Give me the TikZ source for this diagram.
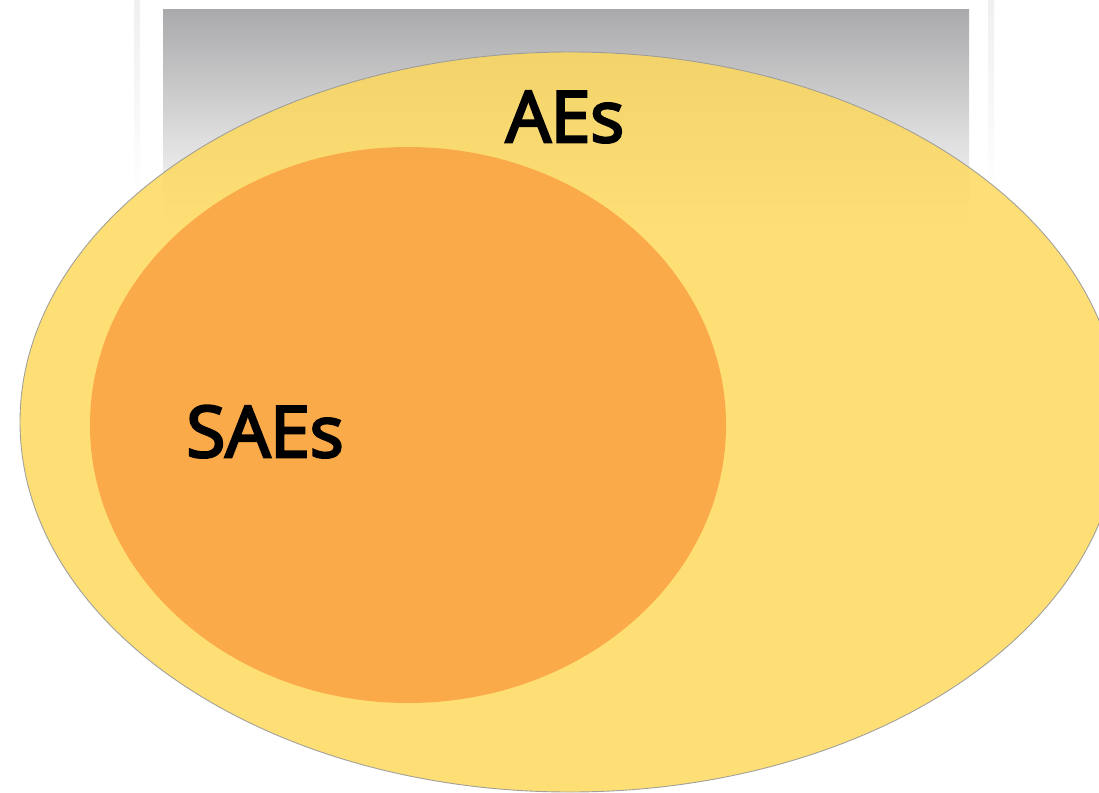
\documentclass[tikz,border=0pt]{standalone}
\usepackage{fontspec}
\setmainfont{Open Sans}
\newfontfamily\labelfont{Open Sans}[FakeBold=3.6]
\definecolor{aeyellow}{RGB}{254,217,92}
\definecolor{saeorange}{RGB}{250,168,70}
\definecolor{topgray}{RGB}{170,170,172}
\tikzset{
  setlabel/.style={anchor=base, font=\labelfont\fontsize{71}{80}\selectfont, text=black, inner sep=0pt},
  outerset/.style={fill=aeyellow, fill opacity=0.84, draw=gray!80, line width=0.9pt, draw opacity=0.9},
  innerset/.style={fill=saeorange, fill opacity=0.95, draw=none}
}
\begin{document}
\begin{tikzpicture}[x=1pt,y=-1pt]
\useasboundingbox (0,0) rectangle (1099,792);
\fill[white] (0,0) rectangle (1099,792);
% faint frame edges
\shade[top color=gray!12, bottom color=white] (134,0) rectangle (140,200);
\shade[top color=gray!12, bottom color=white] (988,0) rectangle (994,200);
% gray gradient panel
\shade[top color=topgray, bottom color=white] (163,10) rectangle (969,222);
\begin{scope}
\clip (0,0) rectangle (1099,792);
\draw[outerset] (570,422) ellipse [x radius=550, y radius=370];
\fill[innerset] (408,425) ellipse [x radius=318, y radius=278];
\end{scope}
\node[setlabel] (ae) at (565,142) {AEs};
\node[setlabel] (sae) at (265,457) {SAEs};
\end{tikzpicture}
\end{document}
